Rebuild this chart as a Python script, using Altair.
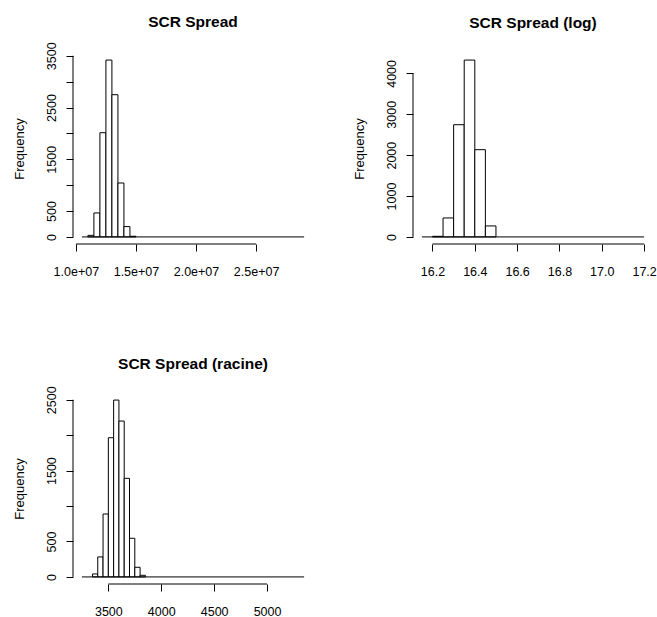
import json
import altair as alt
import pandas as pd

FONT = "Liberation Sans"

# ---- Panel 1: SCR Spread ----
spread_edges = [1.10e7, 1.15e7, 1.20e7, 1.25e7, 1.30e7, 1.35e7, 1.40e7, 1.45e7, 1.50e7]
spread_counts = [30, 463, 2014, 3417, 2748, 1042, 200, 13]
spread_range = [1.05e7, 2.90e7]
spread_xticks = [1.0e7, 1.5e7, 2.0e7, 2.5e7]
spread_xlabels = ["1.0e+07", "1.5e+07", "2.0e+07", "2.5e+07"]
spread_yticks = [0, 500, 1000, 1500, 2000, 2500, 3000, 3500]
spread_ylabels = ["0", "500", "", "1500", "", "2500", "", "3500"]

# ---- Panel 2: SCR Spread (log) ----
log_edges = [16.20, 16.25, 16.30, 16.35, 16.40, 16.45, 16.50]
log_counts = [15, 464, 2745, 4326, 2134, 269]
log_range = [16.15, 17.20]
log_xticks = [16.2, 16.4, 16.6, 16.8, 17.0, 17.2]
log_xlabels = ["16.2", "16.4", "16.6", "16.8", "17.0", "17.2"]
log_yticks = [0, 1000, 2000, 3000, 4000]
log_ylabels = ["0", "1000", "2000", "3000", "4000"]

# ---- Panel 3: SCR Spread (racine) ----
sqrt_edges = [3350, 3400, 3450, 3500, 3550, 3600, 3650, 3700, 3750, 3800, 3850]
sqrt_counts = [42, 282, 888, 1964, 2495, 2199, 1391, 545, 136, 23]
sqrt_range = [3250, 5350]
sqrt_xticks = [3500, 4000, 4500, 5000]
sqrt_xlabels = ["3500", "4000", "4500", "5000"]
sqrt_yticks = [0, 500, 1000, 1500, 2000, 2500]
sqrt_ylabels = ["0", "500", "", "1500", "", "2500"]

PW, PH = 240, 191


def label_expr(ticks, labels):
    return "%s[indexof(%s, datum.value)]" % (json.dumps(labels), json.dumps(ticks))


def panel(title, edges, counts, rng, xticks, xlabels, yticks, ylabels, title_offset):
    span = rng[1] - rng[0]
    xdom = [rng[0] - 0.04 * span, rng[1] + 0.04 * span]
    ymax = max(counts)
    ydom = [-0.04 * ymax, 1.04 * ymax]
    xs = alt.Scale(domain=xdom, nice=False, zero=False)
    ys = alt.Scale(domain=ydom, nice=False, zero=False)

    xaxis = alt.Axis(
        values=xticks, labelExpr=label_expr(xticks, xlabels), domain=False, grid=False,
        tickSize=7, tickColor="black", tickWidth=1,
        labelFont=FONT, labelFontSize=12.5, labelColor="black",
        labelBaseline="alphabetic", labelAlign="center", labelPadding=24,
        labelOverlap=False, labelFlush=False, title=None,
    )
    yaxis = alt.Axis(
        values=yticks, labelExpr=label_expr(yticks, ylabels), domain=False, grid=False,
        tickSize=7, tickColor="black", tickWidth=1,
        labelFont=FONT, labelFontSize=12.5, labelColor="black",
        labelAngle=270, labelAlign="center", labelBaseline="alphabetic", labelPadding=11,
        labelOverlap=False, labelFlush=False,
        title="Frequency", titleFont=FONT, titleFontSize=13, titleFontWeight="normal",
        titleColor="black", titleBaseline="alphabetic", titlePadding=10,
        minExtent=40, maxExtent=40,
    )

    bars_df = pd.DataFrame({
        "start": edges[:-1], "end": edges[1:], "count": counts, "base": [0] * len(counts)
    })
    bars = alt.Chart(bars_df).mark_rect(fill="white", stroke="black", strokeWidth=1).encode(
        x=alt.X("start:Q", scale=xs, axis=xaxis),
        x2="end:Q",
        y=alt.Y("count:Q", scale=ys, axis=yaxis),
        y2="base:Q",
    )

    base_df = pd.DataFrame({"start": [rng[0]], "end": [rng[1]], "count": [0]})
    baseline = alt.Chart(base_df).mark_rule(color="black", strokeWidth=1).encode(
        x=alt.X("start:Q", scale=xs, axis=xaxis), x2="end:Q",
        y=alt.Y("count:Q", scale=ys, axis=yaxis),
    )

    xdom_df = pd.DataFrame({"start": [xticks[0]], "end": [xticks[-1]], "count": [ydom[0]]})
    xline = alt.Chart(xdom_df).mark_rule(color="black", strokeWidth=1).encode(
        x=alt.X("start:Q", scale=xs, axis=xaxis), x2="end:Q",
        y=alt.Y("count:Q", scale=ys, axis=yaxis),
    )

    ydom_df = pd.DataFrame({"start": [xdom[0]], "count": [yticks[0]], "top": [yticks[-1]]})
    yline = alt.Chart(ydom_df).mark_rule(color="black", strokeWidth=1).encode(
        x=alt.X("start:Q", scale=xs, axis=xaxis),
        y=alt.Y("count:Q", scale=ys, axis=yaxis), y2="top:Q",
    )

    return alt.layer(bars, baseline, xline, yline).properties(
        width=PW, height=PH,
        title=alt.TitleParams(
            title, font=FONT, fontSize=15.5, fontWeight="bold", color="black",
            anchor="middle", baseline="alphabetic", offset=title_offset, frame="group",
        ),
    )


p1 = panel("SCR Spread", spread_edges, spread_counts, spread_range,
           spread_xticks, spread_xlabels, spread_yticks, spread_ylabels, -1)
p2 = panel("SCR Spread (log)", log_edges, log_counts, log_range,
           log_xticks, log_xlabels, log_yticks, log_ylabels, 10)
p3 = panel("SCR Spread (racine)", sqrt_edges, sqrt_counts, sqrt_range,
           sqrt_xticks, sqrt_xlabels, sqrt_yticks, sqrt_ylabels, 1)

chart = alt.concat(
    p1, p2, p3, columns=2, spacing={"row": 149, "column": 100}, bounds="flush"
).configure(
    padding={"left": 13, "top": 15, "right": 0, "bottom": 0},
    background="white",
).configure_view(strokeWidth=0)

chart.save("out.html", embed_options={"renderer": "svg", "actions": False})
